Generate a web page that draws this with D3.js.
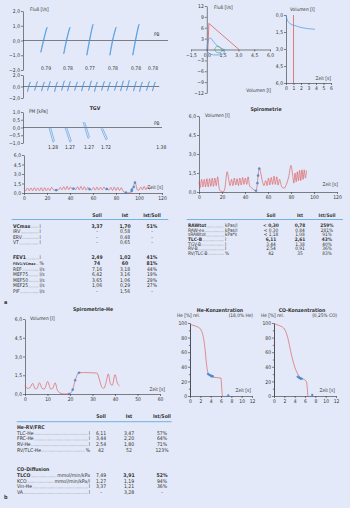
<!DOCTYPE html>
<html>
<head>
<meta charset="utf-8">
<script src="https://cdn.jsdelivr.net/npm/d3@7"></script>
<style>
  html, body { margin: 0; padding: 0; background: #e3e9f8; }
  svg { display: block; font-family: "Liberation Sans Narrow", "DejaVu Sans Condensed", "Liberation Sans", sans-serif; }
</style>
</head>
<body>
<svg id="chart" width="350" height="508"></svg>
<script>
// ---- a: resistance loops (flow vs. box pressure), arbitrary shift axis 0..10
const raw_loop_x = [1.45, 3.03, 4.62, 6.21, 7.79];
const raw_loop_top = [0.9, 0.9, 1.1, 0.9, 1.1];
const raw_loop_bottom = [-0.8, -0.9, -1.0, -1.0, -1.0];
const raw_labels = ["0.79", "0.78", "0.77", "0.78", "0.78", "0.78"];
const raw_label_x = [1.59, 3.1, 4.62, 6.2, 7.8, 8.97];

const tidal_loop_x = [0.41, 0.9, 1.38, 1.79, 2.28, 2.76, 3.17, 3.66, 4.14, 4.62, 5.03, 5.52, 5.93, 6.41, 6.83, 7.24, 7.72, 8.14, 8.62, 9.03];
const tidal_loop_top = [0.8, 0.9, 0.8, 0.9, 0.8, 1.0, 0.9, 0.8, 0.9, 1.0, 0.8, 0.9, 0.8, 0.9, 1.0, 1.1, 0.9, 0.8, 0.9, 0.8];
const tidal_loop_bottom = [-0.9, -0.7, -0.8, -0.7, -0.9, -0.7, -0.8, -0.7, -0.8, -0.7, -0.9, -0.7, -0.8, -0.7, -0.8, -0.7, -0.8, -0.9, -0.7, -0.8];

// loop template: [dx fraction, flow fraction]
const loop_shape = [[-1, -1], [-0.55, -0.55], [-0.1, 0], [0.4, 0.5], [1, 1], [0.75, 0.9], [0.2, 0.4], [-0.3, -0.1], [-0.75, -0.6], [-1, -1]];

// ---- TGV shutter loops: [x top, p top, x bottom, p bottom]
const tgv_loops = [[1.87, 0.0, 2.16, -0.95], [3.02, 0.0, 3.38, -0.95], [4.32, 0.35, 4.68, -0.7], [5.61, -0.05, 5.97, -0.8]];
const tgv_labels = ["1.28", "1.27", "1.27", "1.72", "1.38"];
const tgv_label_x = [2.16, 3.38, 4.75, 5.97, 9.95];

// ---- body spirometry volume over time [s, l]
const body_spiro = [[0, 0.7], [1.5, 0.35], [3, 0.8], [4.5, 0.35], [6, 0.8], [7.5, 0.35], [9, 0.85], [10.5, 0.35], [12, 0.8], [13.5, 0.35], [15, 0.85], [16.5, 0.3], [18, 0.85], [19.5, 0.35], [21, 0.8], [22.5, 0.35], [24, 0.9], [26, 0.45], [28, 0.45], [30, 0.5], [31.5, 0.9], [33, 0.5], [34.5, 1.0], [36, 0.5], [37.5, 1.05], [39, 0.5], [40.5, 0.95], [42, 0.6], [43, 0.7], [45, 0.55], [46.5, 1.0], [48, 0.5], [49.5, 1.05], [51, 0.5], [52.5, 1.0], [54, 0.45], [55.5, 0.9], [57, 0.6], [59, 0.5], [60.5, 0.9], [62, 0.45], [63.5, 0.95], [65, 0.45], [66.5, 0.9], [68, 0.5], [69.5, 0.95], [71, 0.55], [72, 0.65], [74, 0.45], [75.5, 0.9], [77, 0.4], [78.5, 0.95], [80, 0.4], [81.5, 0.9], [83, 0.4], [84.5, 0.85], [86, 0.35], [88, 0.05], [90, 0.0], [92, 0.1], [93.6, 0.3], [95, 0.95], [96.5, 1.65], [97.5, 1.2], [98.5, 0.5], [100, 0.45], [101.5, 0.95], [103, 0.5], [104.5, 1.05], [106, 0.5], [107.5, 1.0], [109, 0.6], [110.5, 0.9]];
const body_spiro_dots = [[28, 0.45], [43, 0.7], [57, 0.6], [72, 0.65], [88.7, 0.05], [93.6, 0.3], [93.8, 0.55], [95.5, 0.95], [96.5, 1.65]];

// ---- flow-volume curve [l, l/s]
const fv_soll = [[0.1, 0], [0.2, 7.2], [3.05, 0]];
const fv_loop = [[0, 0], [0.05, 1.2], [0.12, 2.3], [0.22, 3.0], [0.32, 3.2], [0.45, 2.9], [0.6, 2.3], [0.8, 1.6], [1.0, 1.0], [1.2, 0.6], [1.4, 0.3], [1.6, 0.05], [1.7, 0], [1.6, -1.1], [1.4, -1.4], [1.1, -1.5], [0.8, -1.5], [0.5, -1.4], [0.25, -1.1], [0.08, -0.6], [0, 0]];
const fv_tidal = [[0.75, 0], [0.85, 0.6], [1.0, 0.9], [1.2, 0.7], [1.38, 0.2], [1.42, -0.3], [1.3, -0.8], [1.05, -0.9], [0.85, -0.6], [0.75, 0]];

// ---- volume-time [s, l]
const vt_curve = [[0, 0], [0.1, 0.3], [0.3, 0.6], [0.6, 0.78], [1, 0.9], [1.5, 1.0], [2, 1.1], [2.5, 1.16], [3, 1.21], [3.5, 1.24], [3.85, 1.26]];
const vt_marker = 1;

// ---- spirometry [s, l]
const spiro = [[0, 0.8], [1, 0.35], [2.3, 1.0], [3.4, 0.4], [4.6, 1.0], [5.7, 0.4], [6.9, 1.05], [8, 0.4], [9.2, 1.05], [10.3, 0.45], [11.5, 1.1], [12.6, 0.45], [13.8, 1.1], [15, 0.5], [16.2, 1.2], [17.5, 0.3], [19, 0.05], [21, 0.0], [22.5, 0.3], [24.5, 1.6], [26, 0.9], [27, 0.5], [28.3, 1.0], [29.5, 0.5], [30.7, 1.1], [31.9, 0.55], [33.1, 1.05], [34.3, 0.5], [35.5, 1.1], [36.7, 0.55], [37.9, 1.15], [39.1, 0.6], [40.3, 1.1], [41.5, 0.6], [42.7, 1.2], [44, 0.5], [46, 0.3], [48, 0.15], [49.6, 0.1], [50.8, 0.7], [51.4, 1.3], [52.4, 1.85], [53.5, 1.6], [55, 0.9], [56.5, 0.5], [58, 0.9], [59.2, 0.5], [60.4, 1.1], [61.6, 0.55], [62.8, 1.15], [64, 0.6], [65.2, 1.25], [66.4, 0.6], [67.6, 1.2], [68.8, 0.55], [70, 1.0], [72, 0.4], [74, 0.3], [76, 0.6], [78, 1.2], [80, 2.1], [81.5, 1.3], [82.5, 0.7], [83.5, 1.5], [84.5, 0.8], [85.5, 1.6], [86.5, 0.9], [87.5, 1.7], [88.5, 0.9], [89.5, 1.75], [90.5, 1.0], [91.5, 1.75], [92.5, 1.1], [93.5, 1.7]];
const spiro_dots = [[49.6, 0.1], [50.8, 0.7], [51.4, 1.3], [52.4, 1.85]];

// ---- b: helium spirometry [s, l]
const spiro_he = [[0, 0.7], [1, 0.45], [2.2, 0.5], [3.4, 0.85], [4.6, 0.4], [5.4, 0.45], [6.4, 0.9], [7.6, 0.45], [8.6, 0.4], [10.1, 1.0], [11.4, 0.4], [12.3, 0.45], [13.4, 0.9], [14.4, 0.3], [16, 0.05], [17.5, 0], [19.6, 0], [21.2, 0.35], [22.3, 1.1], [24, 1.7], [26, 1.72], [29, 1.7], [32, 1.68], [33, 1.2], [34, 0.6], [35, 0.45], [36, 0.9], [37, 1.6], [38, 0.8], [38.8, 0.7], [40, 1.55], [41, 0.9], [42, 0.65]];
const spiro_he_dots = [[19.6, 0], [21.2, 0.35], [22.3, 1.1], [24, 1.7]];

// ---- gas concentrations [s, % rel.]
const he_conc = [[0, 98], [0.5, 97], [1, 96], [1.5, 94.5], [2, 92], [2.3, 88], [2.6, 80], [2.9, 65], [3.1, 50], [3.3, 38], [3.5, 31], [3.8, 28], [4.2, 26.5], [4.8, 25.5], [5.5, 25], [6.0, 24.5], [6.1, 15], [6.2, 5], [6.3, 0]];
const he_dots = [[3.5, 30], [3.75, 29], [4.0, 28], [4.2, 27], [4.4, 27], [7.4, 0.8]];
const co_conc = [[0, 99], [0.5, 98], [1, 96.5], [1.5, 95], [2, 92], [2.4, 86], [2.8, 76], [3.2, 62], [3.6, 50], [4.0, 40], [4.4, 33], [4.8, 28], [5.2, 25], [5.6, 23.5], [6.0, 22], [6.3, 19], [6.45, 10], [6.55, 0]];
const co_dots = [[4.6, 26.5], [4.85, 25], [5.1, 24], [5.35, 23.5], [7.4, 1.5]];

// ---- tables: [label, unit, Soll, Ist, Ist/Soll]
const table_spiro_vol = [["VCmax", "l", "3,37", "1,70", "51%"], ["IRV", "l", "-", "0,58", "-"], ["ERV", "l", "-", "0,48", "-"], ["VT", "l", "-", "0,65", "-"]];
const table_spiro_flow = [["FEV1", "l", "2,49", "1,02", "41%"], ["FEV1/VCmax", "%", "74", "60", "81%"], ["REF", "l/s", "7,16", "3,18", "44%"], ["MEF75", "l/s", "6,42", "3,16", "19%"], ["MEF50", "l/s", "3,65", "1,06", "29%"], ["MEF25", "l/s", "1,06", "0,29", "27%"], ["PIF", "l/s", "-", "1,56", "-"]];
const table_body = [["RAWtot", "kPas/l", "< 0,30", "0,78", "259%"], ["RAW-ex", "kPas/l", "< 0,30", "0,84", "281%"], ["sRAWtot", "kPa*s", "< 1,18", "1,08", "91%"], ["TLC-B", "l", "6,11", "2,61", "43%"], ["TGV-B", "l", "3,44", "1,38", "40%"], ["RV-B", "l", "2,54", "0,91", "36%"], ["RV/TLC-B", "%", "42", "35", "83%"]];
const table_he = [["TLC-He", "l", "6,11", "3,47", "57%"], ["FRC-He", "l", "3,44", "2,20", "64%"], ["RV-He", "l", "2,54", "1,80", "71%"], ["RV/TLC-He", "%", "42", "52", "123%"]];
const table_co = [["TLCO", "mmol/min/kPa", "7,49", "3,91", "52%"], ["KCO", "mmol/min/kPa/l", "1,27", "1,19", "94%"], ["Vin-He", "l", "3,37", "1,21", "36%"], ["VA", "l", "-", "3,28", "-"]];
const table_head = ["Soll", "Ist", "Ist/Soll"];
const bold_rows = ["VCmax", "FEV1", "FEV1/VCmax", "RAWtot", "TLC-B", "TLCO"];

const ink = "#343434";
const red = "#dc4b4b";
const blue = "#4896de";
const green = "#3d9a5e";
const rule = "#62ade0";

const svg = d3.select("#chart");
svg.append("rect").attr("width", 350).attr("height", 508).attr("fill", "#e3e9f8");

const fmt_comma = (d) => d3.format(".1f")(d).replace(".", ",").replace("-", "\u2212");
const fmt_int = (d) => d3.format("d")(d).replace("-", "\u2212");

function style_axis(g) {
  g.attr("font-family", null).attr("font-size", null);
  g.selectAll("path, line").attr("stroke", ink).attr("stroke-width", 0.6);
  g.selectAll("text").attr("fill", ink).attr("font-size", 5);
  return g;
}

function y_axis(y, x_pos, ticks, fmt) {
  return style_axis(svg.append("g")
    .attr("transform", `translate(${ x_pos },0)`)
    .call(d3.axisLeft(y).tickValues(ticks).tickFormat(fmt).tickSize(2).tickSizeOuter(0).tickPadding(1)));
}

function x_axis(x, y_pos, ticks, fmt) {
  return style_axis(svg.append("g")
    .attr("transform", `translate(0,${ y_pos })`)
    .call(d3.axisBottom(x).tickValues(ticks).tickFormat(fmt).tickSize(2).tickSizeOuter(0).tickPadding(1.5)));
}

function label(x, y, txt, opts = {}) {
  return svg.append("text")
    .attr("x", x).attr("y", y)
    .attr("fill", ink)
    .attr("font-size", opts.size || 5)
    .attr("font-weight", opts.bold ? "bold" : null)
    .attr("text-anchor", opts.anchor || "start")
    .text(txt);
}

// shrink a text until it fits a max width (the original uses a narrow typeface)
function fit(sel, max_w, size) {
  const w = sel.node().getComputedTextLength();
  if (w > max_w) {
    sel.attr("font-size", size * max_w / w);
    return sel.node().getComputedTextLength();
  }
  return w;
}

function draw_line(data, x, y, color, curve, width = 0.6) {
  svg.append("path")
    .datum(data)
    .attr("fill", "none")
    .attr("stroke", color)
    .attr("stroke-width", width)
    .attr("d", d3.line().x((d) => x(d[0])).y((d) => y(d[1])).curve(curve));
}

function draw_dots(data, x, y, r = 1.1) {
  svg.append("g")
    .selectAll("circle")
    .data(data)
    .enter()
    .append("circle")
    .attr("cx", (d) => x(d[0]))
    .attr("cy", (d) => y(d[1]))
    .attr("r", r)
    .attr("fill", blue)
    .attr("stroke", "#2c74bb")
    .attr("stroke-width", 0.3);
}

function draw_loops(cx, tops, bottoms, half, x, y, width) {
  cx.forEach((c, i) => {
    const pts = loop_shape.map(([dx, f]) => [c + dx * half, f >= 0 ? f * tops[i] : f * Math.abs(bottoms[i])]);
    draw_line(pts, x, y, blue, d3.curveLinear, width);
  });
}

// ---------- a1: resistance loops
const x1 = d3.scaleLinear().domain([0, 10]).range([23, 168]);
const y1 = d3.scaleLinear().domain([-2, 2]).range([70, 11]);
y_axis(y1, 23, [-2, -1, 0, 1, 2], fmt_comma);
svg.append("line").attr("x1", x1(0)).attr("x2", x1(10)).attr("y1", y1(0)).attr("y2", y1(0)).attr("stroke", ink).attr("stroke-width", 0.6);
label(30, 11, "Fluß [l/s]", { size: 4.8 });
label(154, 36, "PB", { size: 4.8 });
draw_loops(raw_loop_x, raw_loop_top, raw_loop_bottom, 0.22, x1, y1, 0.7);
raw_labels.forEach((t, i) => label(x1(raw_label_x[i]), 69.5, t, { anchor: "middle", size: 5 }));

const y1b = d3.scaleLinear().domain([-2, 2]).range([98, 75]);
y_axis(y1b, 23, [-2, 0, 2], fmt_comma);
svg.append("line").attr("x1", x1(0)).attr("x2", x1(9.4)).attr("y1", y1b(0)).attr("y2", y1b(0)).attr("stroke", ink).attr("stroke-width", 0.6);
draw_loops(tidal_loop_x, tidal_loop_top, tidal_loop_bottom, 0.1, x1, y1b, 0.6);

// ---------- a2: TGV
const x2 = d3.scaleLinear().domain([0, 10]).range([23, 162]);
const y2 = d3.scaleLinear().domain([-1, 1]).range([143, 112]);
y_axis(y2, 23, [-1, -0.5, 0, 0.5, 1], fmt_comma);
svg.append("line").attr("x1", x2(0)).attr("x2", x2(10)).attr("y1", y2(0)).attr("y2", y2(0)).attr("stroke", ink).attr("stroke-width", 0.6);
label(29, 113, "PM [kPa]", { size: 4.8 });
label(95, 110, "TGV", { size: 5.2, bold: true, anchor: "middle" });
label(154, 125, "PB", { size: 4.8 });
tgv_loops.forEach(([xa, ya, xb, yb]) => {
  draw_line([[xa, ya], [xb, yb], [xb + 0.1, yb + 0.08], [xa + 0.12, ya]], x2, y2, blue, d3.curveLinear, 0.6);
});
tgv_labels.forEach((t, i) => label(x2(tgv_label_x[i]), 148.5, t, { anchor: "middle", size: 5 }));

// ---------- a3: body spirometry
const x3 = d3.scaleLinear().domain([0, 120]).range([24, 162]);
const y3 = d3.scaleLinear().domain([0, 6]).range([193, 155]);
y_axis(y3, 24, [0, 1.5, 3, 4.5, 6], fmt_comma);
x_axis(x3, 193, d3.range(0, 121, 20), fmt_int);
draw_line(body_spiro, x3, y3, red, d3.curveMonotoneX);
draw_dots(body_spiro_dots, x3, y3);
label(163, 188.5, "Zeit [s]", { size: 4.8, anchor: "end" });

// ---------- flow-volume
const x4 = d3.scaleLinear().domain([-1.5, 6]).range([191, 270]);
const y4 = d3.scaleLinear().domain([-12, 12]).range([93, 6]);
y_axis(y4, x4(0), [-12, -9, -6, -3, 3, 6, 9, 12], fmt_int);
x_axis(x4, y4(0), [-1.5, 0, 1.5, 3, 4.5, 6], fmt_comma);
label(214, 9, "Fluß [l/s]", { size: 4.8 });
label(271, 92, "Volumen [l]", { size: 4.8, anchor: "end" });
draw_line(fv_soll, x4, y4, red, d3.curveLinear, 0.7);
draw_line(fv_loop, x4, y4, blue, d3.curveCatmullRom.alpha(0.5), 0.7);
draw_line(fv_tidal, x4, y4, green, d3.curveCatmullRomClosed.alpha(0.5), 0.6);

// ---------- volume-time
const x5 = d3.scaleLinear().domain([0, 6]).range([286, 331]);
const y5 = d3.scaleLinear().domain([0, 6]).range([15, 83]);
y_axis(y5, x5(0), [0, 1.5, 3, 4.5, 6], fmt_comma);
x_axis(x5, y5(6), d3.range(0, 7), fmt_int);
svg.append("line").attr("x1", x5(vt_marker)).attr("x2", x5(vt_marker)).attr("y1", y5(0)).attr("y2", y5(6)).attr("stroke", red).attr("stroke-width", 0.7);
draw_line(vt_curve, x5, y5, blue, d3.curveMonotoneX, 0.7);
label(290, 11, "Volumen [l]", { size: 4.8 });
label(331, 80, "Zeit [s]", { size: 4.8, anchor: "end" });

// ---------- spirometry
const x6 = d3.scaleLinear().domain([0, 120]).range([199, 337]);
const y6 = d3.scaleLinear().domain([0, 6]).range([192, 116]);
y_axis(y6, 199, [0, 1.5, 3, 4.5, 6], fmt_comma);
x_axis(x6, 192, d3.range(0, 121, 20), fmt_int);
label(266, 111, "Spirometrie", { size: 5.2, bold: true, anchor: "middle" });
label(205, 117, "Volumen [l]", { size: 4.8 });
label(338, 186, "Zeit [s]", { size: 4.8, anchor: "end" });
draw_line(spiro, x6, y6, red, d3.curveMonotoneX);
draw_dots(spiro_dots, x6, y6);

// ---------- tables
function draw_table(rows, cfg) {
  rows.forEach((r, i) => {
    const yb = cfg.rows[i];
    const bold = bold_rows.includes(r[0]);
    const unit = label(cfg.unit_x, yb, r[1], { size: cfg.size, anchor: cfg.unit_anchor });
    let unit_start = cfg.unit_x - 0.8;
    if (cfg.unit_anchor === "end") unit_start = cfg.unit_x - unit.node().getComputedTextLength() - 0.8;
    const lab = label(cfg.label_x, yb, r[0], { size: cfg.size, bold });
    const lab_end = cfg.label_x + fit(lab, unit_start - cfg.label_x - 3, cfg.size) + 0.8;
    if (unit_start > lab_end + 0.5) {
      svg.append("line")
        .attr("x1", lab_end).attr("x2", unit_start)
        .attr("y1", yb - 0.3).attr("y2", yb - 0.3)
        .attr("stroke", ink).attr("stroke-width", 0.35)
        .attr("stroke-dasharray", "0.35 0.55");
    }
    r.slice(2).forEach((v, j) => label(cfg.cols[j], yb, v, { size: cfg.size, anchor: "middle", bold: bold && (j > 0 || !cfg.soll_plain) }));
  });
}

function table_header(cfg, y_head, y_rule, x0, x1r) {
  table_head.forEach((h, j) => label(cfg.cols[j], y_head, h, { size: cfg.size, bold: true, anchor: "middle" }));
  svg.append("line").attr("x1", x0).attr("x2", x1r).attr("y1", y_rule).attr("y2", y_rule).attr("stroke", rule).attr("stroke-width", 0.9);
}

const cfg_left = { label_x: 13, unit_x: 39.5, cols: [97, 125, 152], size: 5 };
table_header(cfg_left, 216.7, 219.5, 11.7, 168.3);
draw_table(table_spiro_vol, { ...cfg_left, rows: [227.5, 233.1, 238.7, 244.3] });
draw_table(table_spiro_flow, { ...cfg_left, rows: [259.3, 264.9, 270.5, 276.1, 281.7, 287.3, 292.9] });

const cfg_right = { label_x: 188, unit_x: 225, cols: [271, 300, 327], size: 4.8 };
table_header(cfg_right, 216.7, 219.5, 186.7, 343);
draw_table(table_body, { ...cfg_right, rows: [227.3, 231.9, 236.4, 241.0, 245.5, 250.1, 254.7] });

label(4, 304, "a", { size: 5.5, bold: true });

// ---------- b: spirometry with helium
const x7 = d3.scaleLinear().domain([0, 60]).range([25, 160]);
const y7 = d3.scaleLinear().domain([0, 6]).range([394, 319]);
y_axis(y7, 25, [0, 1.5, 3, 4.5, 6], fmt_comma);
x_axis(x7, 394, d3.range(0, 61, 10), fmt_int);
label(93, 311, "Spirometrie-He", { size: 5.2, bold: true, anchor: "middle" });
label(30, 320, "Volumen [l]", { size: 4.8 });
label(165, 391, "Zeit [s]", { size: 4.8, anchor: "end" });
draw_line(spiro_he, x7, y7, red, d3.curveMonotoneX);
draw_dots(spiro_he_dots, x7, y7);

// ---------- gas concentration panels
function conc_panel(x, y, title, title_x, gas, curve, dots) {
  y_axis(y, x(0), d3.range(0, 101, 20), fmt_int);
  style_axis(svg.append("g").attr("transform", `translate(${ x(0) },0)`)
    .call(d3.axisLeft(y).tickValues(d3.range(10, 100, 20)).tickFormat("").tickSize(1.2).tickSizeOuter(0)));
  x_axis(x, y(0), d3.range(0, 13, 2), fmt_int);
  label(title_x, 312, title, { size: 5.2, bold: true, anchor: "middle" });
  label(x(0) - 13, 316.7, "He [%] rel.", { size: 4.8 });
  label(x(12) + 1, 316.7, gas, { size: 4.8, anchor: "end" });
  label(x(12) - 1, 391.5, "Zeit [s]", { size: 4.8, anchor: "end" });
  draw_line(curve, x, y, red, d3.curveMonotoneX);
  draw_dots(dots, x, y, 1.0);
}

const x8 = d3.scaleLinear().domain([0, 12]).range([190, 252]);
const y8 = d3.scaleLinear().domain([0, 100]).range([396, 323]);
conc_panel(x8, y8, "He-Konzentration", 220, "(18,0% He)", he_conc, he_dots);

const x9 = d3.scaleLinear().domain([0, 12]).range([274, 336]);
conc_panel(x9, y8, "CO-Konzentration", 302, "(0,25% CO)", co_conc, co_dots);

// ---------- b tables
const cfg_b = { label_x: 17, unit_x: 90, unit_anchor: "end", cols: [101, 129, 162], size: 5.1, soll_plain: true };
table_header(cfg_b, 418, 421.7, 16.7, 171.7);
label(17, 429, "He-RV/FRC", { size: 5.1, bold: true });
draw_table(table_he, { ...cfg_b, rows: [434.7, 440.3, 445.9, 451.5] });
label(17, 471, "CO-Diffusion", { size: 5.1, bold: true });
draw_table(table_co, { ...cfg_b, rows: [477, 482.6, 488.2, 493.8] });

label(4, 499, "b", { size: 5.5, bold: true });
</script>
</body>
</html>
